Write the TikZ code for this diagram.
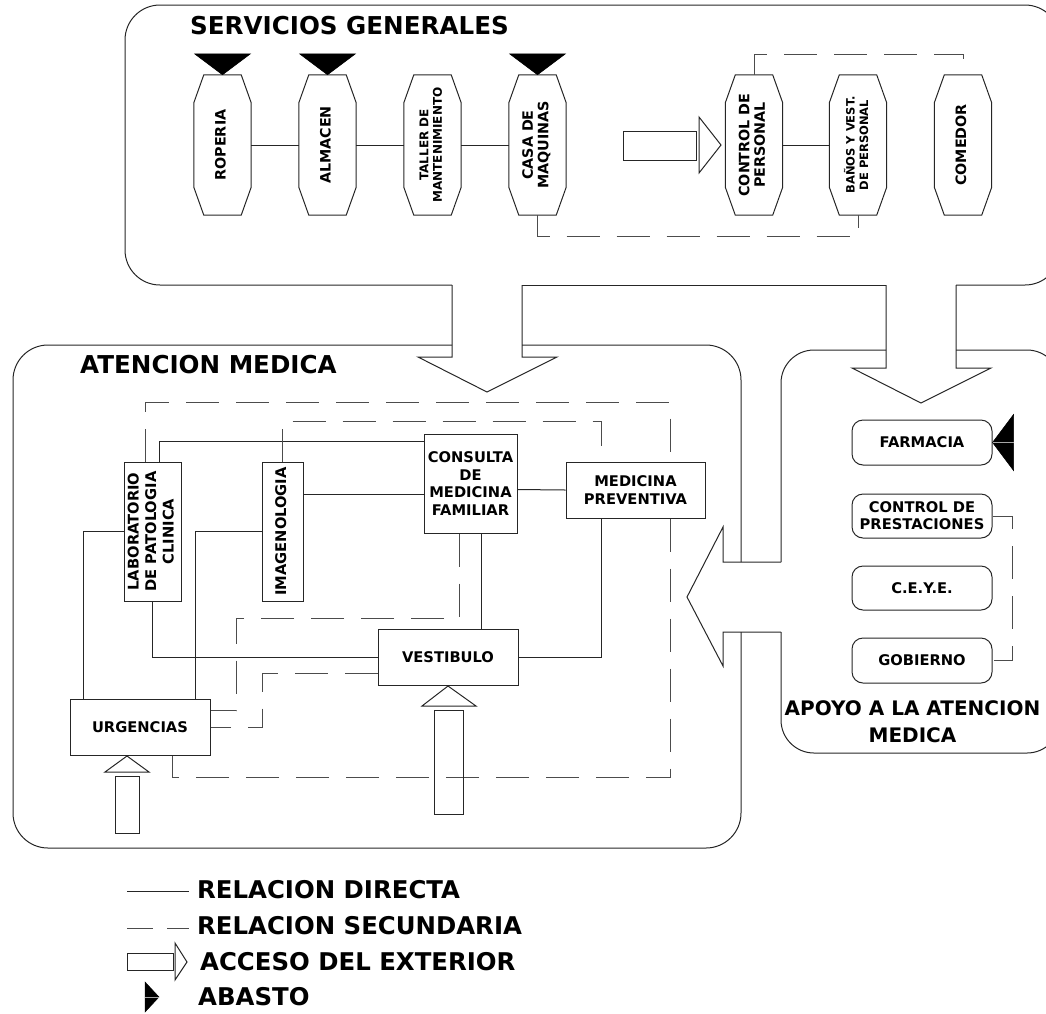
\documentclass[tikz,border=0pt]{standalone}
\usepackage{fontspec}
\setmainfont{DejaVu Sans}
\usetikzlibrary{backgrounds}
\newcommand\svcoct[1]{%
  \draw[ln] ([xshift=10pt]#1.north west) -- ([xshift=-10pt]#1.north east)
    -- ([yshift=-28pt]#1.north east) -- ([yshift=28pt]#1.south east)
    -- ([xshift=-10pt]#1.south east) -- ([xshift=10pt]#1.south west)
    -- ([yshift=28pt]#1.south west) -- ([yshift=-28pt]#1.north west) -- cycle;}
\newcommand\rt[1]{\rotatebox{90}{\begin{tabular}{@{}c@{}}#1\end{tabular}}}
\begin{document}
\begin{tikzpicture}[x=1pt,y=-1pt,
  ln/.style={line width=1pt,draw=black!85},
  dsh/.style={line width=1pt,draw=black!70,dash pattern=on 33pt off 17pt},
  sbox/.style={rectangle,minimum width=57pt,minimum height=140pt,inner sep=0pt,font=\fontsize{14.3}{15.5}\selectfont\bfseries},
  nbox/.style={rectangle,draw=black!85,line width=1pt,fill=white,inner sep=0pt,font=\fontsize{14.7}{17.5}\selectfont\bfseries,align=center},
  abox/.style={rectangle,rounded corners=11pt,draw=black!85,line width=1pt,fill=white,inner sep=0pt,minimum width=140pt,font=\fontsize{14.7}{17}\selectfont\bfseries,align=center},
  ttl/.style={inner sep=0pt,font=\fontsize{24.6}{28}\selectfont\bfseries},
  leg/.style={inner sep=0pt,anchor=base west,font=\fontsize{24.4}{26}\selectfont\bfseries},
  sup/.style={fill=black,draw=black,line width=0.5pt},
  acc/.style={draw=black!85,line width=1pt}
]
\useasboundingbox (0,0) rectangle (1046,1013);

% ---------- containers and big arrows ----------
\draw[ln,rounded corners=35pt] (452,285) -- (125,285) -- (125,5) -- (1060,5) -- (1060,285) -- (956,285);
\draw[ln] (886,285) -- (522,285);
\draw[ln] (452,285) -- (452,357) -- (418,357) -- (487,392) -- (557,357) -- (522,357) -- (522,285);
\draw[ln,rounded corners=35pt] (452,345) -- (13,345) -- (13,848) -- (741,848) -- (741,632);
\draw[ln,rounded corners=35pt] (741,562) -- (741,345) -- (522,345);
\draw[ln] (781,562) -- (723,562) -- (723,527) -- (687,597) -- (723,666) -- (723,632) -- (781,632);
\draw[ln,rounded corners=33pt] (781,562) -- (781,350) -- (886,350);
\draw[ln,rounded corners=33pt] (956,350) -- (1060,350) -- (1060,753) -- (781,753) -- (781,632);
\draw[ln] (886,285) -- (886,368) -- (852,368) -- (921,403) -- (991,368) -- (956,368) -- (956,285);

% ---------- titles ----------
\node[ttl,anchor=base west] (sg) at (190,34) {SERVICIOS GENERALES};
\node[ttl,anchor=base west] (am) at (80,373) {ATENCION MEDICA};
\node[ttl,anchor=base,font=\fontsize{20}{27.5}\selectfont\bfseries] (ap) at (912.5,715) {\begin{tabular}[t]{@{}c@{}}APOYO A LA ATENCION\\MEDICA\end{tabular}};

% ---------- servicios generales ----------
\node[sbox] (rop) at (222.5,145) {\rt{ROPERIA}};
\node[sbox] (alm) at (327.5,145) {\rt{ALMACEN}};
\node[sbox,font=\fontsize{12}{13.5}\selectfont\bfseries] (tal) at (432.5,145) {\rt{TALLER DE\\MANTENIMIENTO}};
\node[sbox] (cas) at (537.5,145) {\rt{CASA DE\\MAQUINAS}};
\node[sbox] (ctl) at (754,145) {\rt{CONTROL DE\\PERSONAL}};
\node[sbox,font=\fontsize{11.5}{13.5}\selectfont\bfseries] (ban) at (858,145) {\rt{BAÑOS Y VEST.\\DE PERSONAL}};
\node[sbox] (com) at (963,145) {\rt{COMEDOR}};
\foreach \n in {rop,alm,tal,cas,ctl,ban,com} {\svcoct{\n}}
\foreach \n in {rop,alm,cas} {\draw[sup] (\n.north) -- ++(-28,-21) -- ++(56,0) -- cycle;}
\draw[acc] (623,131) rectangle (696,160);
\draw[acc] (699,117) -- (721,145) -- (699,173) -- cycle;

\draw[ln] (rop) -- (alm) (alm) -- (tal) (tal) -- (cas) (ctl) -- (ban);
\draw[dsh] (cas.south) -- ++(0,21) -| (ban.south);
\draw[dsh] (ctl.north) -- ++(0,-20) -| (com.north);

% ---------- atencion medica ----------
\node[nbox,minimum width=57pt,minimum height=139pt] (lab) at (152.5,531.5) {\rt{LABORATORIO\\DE PATOLOGIA\\CLINICA}};
\node[nbox,minimum width=41pt,minimum height=139pt] (img) at (282.5,531.5) {\rt{IMAGENOLOGIA}};
\node[nbox,minimum width=93pt,minimum height=99pt] (con) at (470.5,483.5) {CONSULTA\\DE\\MEDICINA\\FAMILIAR};
\node[nbox,minimum width=139pt,minimum height=56pt] (mp) at (635.5,490) {MEDICINA\\PREVENTIVA};
\node[nbox,minimum width=140pt,minimum height=56pt] (ves) at (448,657) {VESTIBULO};
\node[nbox,minimum width=140pt,minimum height=56pt] (urg) at (140,727) {URGENCIAS};

\begin{pgfonlayer}{background}
\draw[ln] ([xshift=6.5pt]lab.north) |- ([yshift=-8pt]con.north west);
\draw[ln] ([yshift=-33pt]img.north east) -- ([yshift=-61pt]con.north west);
\draw[ln] ([yshift=-56pt]con.north east) -- (mp.west);
\draw[ln] ([xshift=10.5pt]con.south) -- ([xshift=33pt]ves.north);
\draw[ln] ([xshift=-34.5pt]mp.south) |- (ves.east);
\draw[ln] (lab.south) |- (ves.west);
\draw[ln] (lab.west) -| ([xshift=-57pt]urg.north);
\draw[ln] (img.west) -| ([xshift=55pt]urg.north);
\draw[dsh] ([xshift=-11.5pt]con.south) -- ++(0,85) -- ++(-223,0) |- ([yshift=-12pt]urg.north east);
\draw[dsh] ([yshift=12pt]ves.south west) -- ++(-115,0) |- (urg.east);
\draw[dsh] ([xshift=-7.5pt]lab.north) -- ++(0,-59) -- ++(525,0) -- ++(0,375) -| ([xshift=32pt]urg.south);
\draw[dsh] (img.north) -- ++(0,-40) -| ([xshift=-34.5pt]mp.north);
\end{pgfonlayer}

\draw[acc] (127,756) -- (149,772) -- (105,772) -- cycle;
\draw[acc] (115,776) rectangle (139,833);
\draw[acc] (448,686) -- (476,706) -- (422,706) -- cycle;
\draw[acc] (434,710) rectangle (463,814);

% ---------- apoyo ----------
\node[abox,minimum height=45pt] (far) at (922,442.5) {FARMACIA};
\node[abox,minimum height=44pt] (pre) at (922,516) {CONTROL DE\\PRESTACIONES};
\node[abox,minimum height=44pt] (cey) at (922,588) {C.E.Y.E.};
\node[abox,minimum height=45pt] (gob) at (922,660.5) {GOBIERNO};
\draw[sup] (far.east) -- ++(21,-28) -- ++(0,56) -- cycle;
\draw[gray!70,line width=0.7pt] (far.east) -- ++(21,0);
\draw[dsh] (pre.east) -- ++(20,0) |- (gob.east);

% ---------- legend ----------
\draw[ln] (127,891) -- (189,891);
\draw[line width=1pt,draw=black!70,dash pattern=on 26pt off 14pt] (127,928) -- (189,928);
\draw[acc] (127,953) rectangle (173,970);
\draw[acc] (175,943) -- (187,962) -- (175,980) -- cycle;
\draw[sup] (145,982) -- (159,997) -- (145,1012) -- cycle;
\draw[gray!70,line width=0.7pt] (145,997) -- (159,997);
\node[leg] (l1) at (197,898) {RELACION DIRECTA};
\node[leg] (l2) at (197,934) {RELACION SECUNDARIA};
\node[leg] (l3) at (200,970) {ACCESO DEL EXTERIOR};
\node[leg] (l4) at (198,1005) {ABASTO};
\end{tikzpicture}
\end{document}
